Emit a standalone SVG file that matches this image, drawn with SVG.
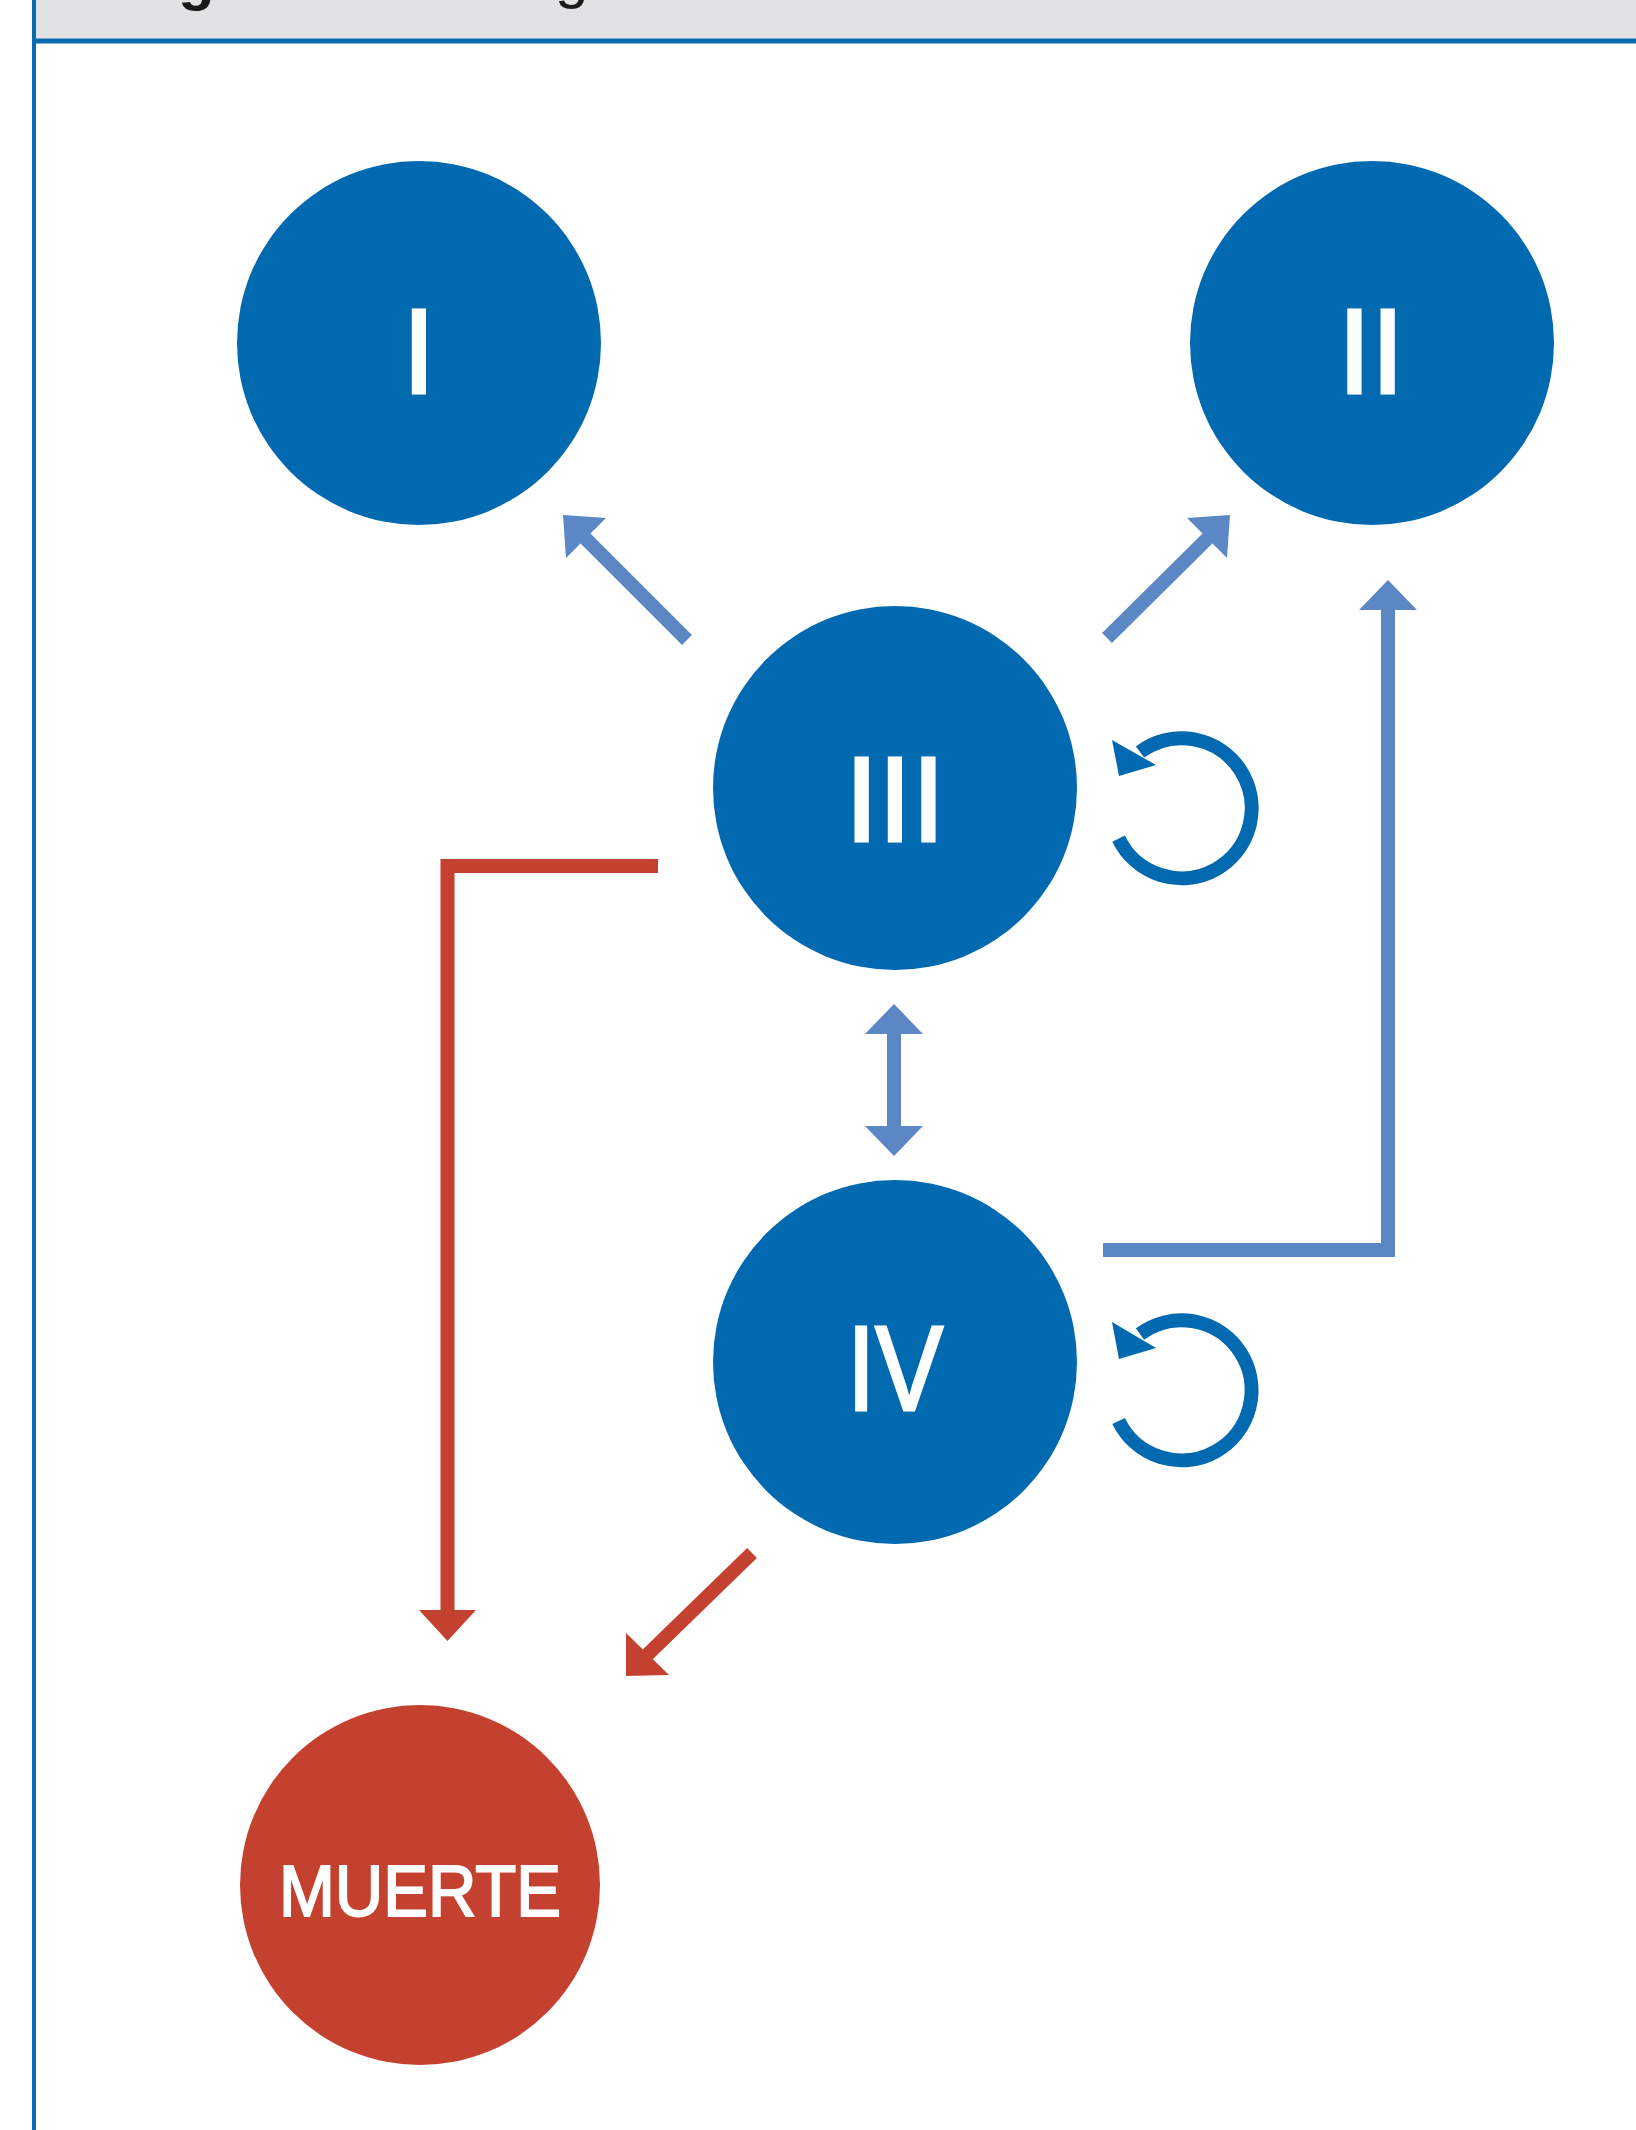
<svg xmlns="http://www.w3.org/2000/svg" width="1636" height="2130" viewBox="0 0 1636 2130">
  <style>
    .node { fill: #0069B0; }
    .death { fill: #C4402F; }
    .lbl { font-family: "Liberation Sans", Arial, sans-serif; fill: #FFFFFF; stroke: #FFFFFF; stroke-width: 3; text-anchor: middle; }
    .num { font-size: 120px; }
    .big { font-size: 72px; stroke-width: 2; }
    .blue { stroke: #5B87C5; stroke-width: 14; fill: none; }
    .red { stroke: #C4402F; stroke-width: 14; fill: none; }
    .loop { stroke: #0069B0; stroke-width: 14; fill: none; }
    .hb { fill: #5B87C5; }
    .hr { fill: #C4402F; }
    .hl { fill: #0069B0; }
    .cap { font-family: "Liberation Sans", Arial, sans-serif; fill: #1A1A1A; font-size: 60px; }
  </style>
  <defs>
    <clipPath id="hdrclip"><rect x="34" y="0" width="1602" height="38"/></clipPath>
  </defs>
  <rect x="0" y="0" width="1636" height="2130" fill="#FFFFFF"/>
  <g id="header">
    <rect x="34" y="0" width="1602" height="39" fill="#E1E2E4"/>
    <g clip-path="url(#hdrclip)">
      <text class="cap" x="178" y="-1" font-weight="bold">g</text>
      <text class="cap" x="555" y="-3">g</text>
    </g>
    <line x1="34" y1="41" x2="1636" y2="41" stroke="#0A6CB0" stroke-width="5"/>
    <line x1="34" y1="0" x2="34" y2="2130" stroke="#0A6CB0" stroke-width="4"/>
  </g>

  <g id="connectors">
    <!-- III -> I -->
    <line class="blue" x1="687" y1="640" x2="582" y2="535"/>
    <polygon class="hb" points="563,515 606,518 566,558"/>
    <!-- III -> II -->
    <line class="blue" x1="1107" y1="638" x2="1211" y2="535"/>
    <polygon class="hb" points="1230,515 1187,518 1227,558"/>
    <!-- IV -> II -->
    <path class="blue" d="M1103 1250 H1388 V605" stroke-linejoin="miter"/>
    <polygon class="hb" points="1388,580 1417,610 1359,610"/>
    <!-- III <-> IV -->
    <line class="blue" x1="894" y1="1030" x2="894" y2="1130"/>
    <polygon class="hb" points="894,1004 923,1034 865,1034"/>
    <polygon class="hb" points="894,1156 923,1126 865,1126"/>
    <!-- III -> MUERTE -->
    <path class="red" d="M658 866 H447.5 V1614" stroke-linejoin="miter"/>
    <polygon class="hr" points="447.5,1641 476,1610 419,1610"/>
    <!-- IV -> MUERTE -->
    <line class="red" x1="752" y1="1553" x2="645" y2="1657"/>
    <polygon class="hr" points="626,1676 626,1633 669,1675"/>
    <!-- self loop III -->
    <path class="loop" d="M1118.6 838.6 A70 70 0 1 0 1140 752"/>
    <polygon class="hl" points="1112,740 1156,765 1119,776"/>
    <!-- self loop IV -->
    <path class="loop" d="M1118.6 1421 A70 70 0 1 0 1140 1334"/>
    <polygon class="hl" points="1112,1322 1156,1348 1119,1359"/>
  </g>

  <g id="node-I">
    <circle class="node" cx="419" cy="343" r="182"/>
    <text class="lbl num" x="419" y="393">I</text>
  </g>
  <g id="node-II">
    <circle class="node" cx="1372" cy="343" r="182"/>
    <text class="lbl num" x="1371" y="393">II</text>
  </g>
  <g id="node-III">
    <circle class="node" cx="895" cy="788" r="182"/>
    <text class="lbl num" x="895" y="841">III</text>
  </g>
  <g id="node-IV">
    <circle class="node" cx="895" cy="1362" r="182"/>
    <text class="lbl num" x="895" y="1410" textLength="96" lengthAdjust="spacingAndGlyphs">IV</text>
  </g>
  <g id="node-MUERTE">
    <circle class="death" cx="420" cy="1885" r="180"/>
    <text class="lbl big" x="420" y="1916" textLength="282" lengthAdjust="spacingAndGlyphs">MUERTE</text>
  </g>
</svg>
